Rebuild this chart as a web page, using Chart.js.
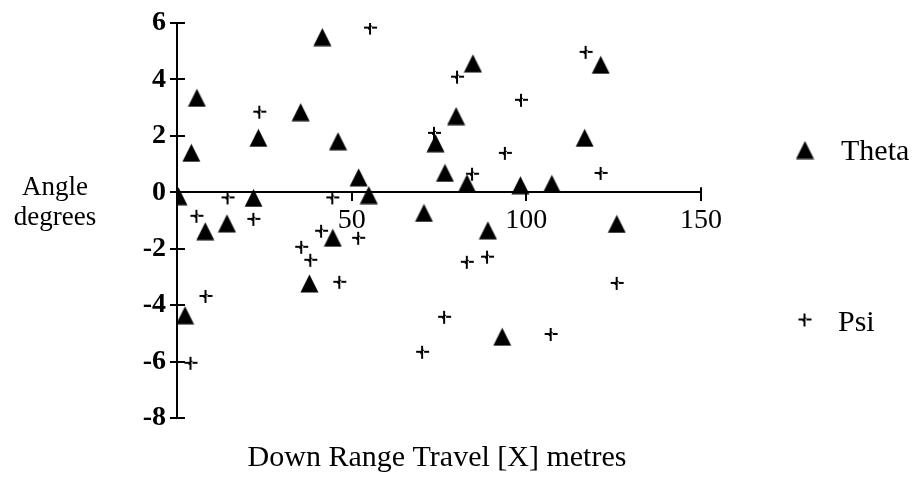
<!DOCTYPE html>
<html>
<head>
<meta charset="utf-8">
<script src="https://cdn.jsdelivr.net/npm/chart.js@4.4.1/dist/chart.umd.min.js"></script>
<style>
  html, body { margin: 0; padding: 0; background: #fff; }
  #wrap { width: 913px; height: 481px; position: relative; }
</style>
</head>
<body>
<div id="wrap"><canvas id="c" width="913" height="481"></canvas></div>
<script>
// ---- data ----
const thetaX = [0.4, 4.1, 5.7, 8.1, 14.3, 21.9, 23.3, 35.4, 37.9, 41.6, 44.6, 46.1, 52.0, 54.9, 2.3, 70.7, 74.0, 76.7, 79.9, 83.0, 84.7, 89.0, 93.1, 98.3, 107.3, 116.7, 121.3, 125.9];
const thetaY = [-0.14, 1.4, 3.35, -1.38, -1.1, -0.2, 1.93, 2.84, -3.23, 5.5, -1.61, 1.81, 0.53, -0.1, -4.36, -0.73, 1.74, 0.69, 2.7, 0.32, 4.57, -1.35, -5.12, 0.25, 0.3, 1.93, 4.52, -1.12];
const psiX = [55.4, 23.7, 14.6, 44.6, 5.7, 22.0, 41.4, 52.0, 35.7, 38.3, 46.6, 8.3, 4.0, 70.3, 76.6, 83.1, 88.9, 107.1, 126.0, 80.3, 73.7, 84.6, 94.0, 98.6, 117.1, 121.4];
const psiY = [5.82, 2.84, -0.2, -0.2, -0.85, -0.96, -1.38, -1.63, -1.95, -2.41, -3.19, -3.69, -6.06, -5.67, -4.43, -2.48, -2.3, -5.04, -3.23, 4.08, 2.09, 0.64, 1.38, 3.26, 4.96, 0.67];
const seriesNames = ['Theta', 'Psi'];
const xTicks = [0, 50, 100, 150];
const yTicks = [-8, -6, -4, -2, 0, 2, 4, 6];
const xTitle = 'Down Range Travel [X] metres';
const yTitle = ['Angle', 'degrees'];

// ---- marker images ----
function makeTriangle() {
  const cv = document.createElement('canvas');
  cv.width = 19; cv.height = 19;
  const g = cv.getContext('2d');
  g.fillStyle = '#000';
  g.beginPath();
  g.moveTo(9.5, 0.5);
  g.lineTo(18.5, 18.5);
  g.lineTo(0.5, 18.5);
  g.closePath();
  g.fill();
  return cv;
}
function makePsi() {
  const cv = document.createElement('canvas');
  cv.width = 15; cv.height = 15;
  const g = cv.getContext('2d');
  g.fillStyle = '#000';
  g.fillRect(6, 1, 2, 13);
  g.fillRect(1, 6, 5, 2);
  g.fillRect(9, 6, 5, 2);
  g.fillRect(8, 5, 1, 1);
  g.fillRect(5, 8, 1, 1);
  return cv;
}
const triImg = makeTriangle();
const psiImg = makePsi();

const toPts = (xs, ys) => xs.map((x, i) => ({ x: x, y: ys[i] }));
const FONT = 'Liberation Serif';

const decor = {
  id: 'decor',
  afterDraw(chart) {
    const c = chart.ctx;
    const xs = chart.scales.x, ys = chart.scales.y;
    const left = chart.chartArea.left;
    c.save();
    c.strokeStyle = '#000';
    c.lineWidth = 2;
    yTicks.forEach(v => {
      const py = Math.round(ys.getPixelForValue(v));
      c.beginPath(); c.moveTo(left, py); c.lineTo(left + 8, py); c.stroke();
    });
    const y0 = ys.getPixelForValue(0);
    const pEnd = xs.getPixelForValue(xTicks[xTicks.length - 1]);
    c.beginPath(); c.moveTo(pEnd, y0 - 5); c.lineTo(pEnd, y0); c.stroke();

    c.fillStyle = '#000';
    c.font = '30px "' + FONT + '"';
    c.textAlign = 'center';
    c.textBaseline = 'alphabetic';
    c.fillText(xTitle, 437, 466);
    c.font = '27px "' + FONT + '"';
    c.fillText(yTitle[0], 55, 195);
    c.fillText(yTitle[1], 55, 225);
    c.font = '30px "' + FONT + '"';
    c.textAlign = 'left';
    c.drawImage(triImg, 805 - 9.5, 150 - 9.5);
    c.fillText(chart.data.datasets[0].label, 841, 160);
    c.drawImage(psiImg, 805 - 7.5, 320 - 7.5);
    c.fillText(chart.data.datasets[1].label, 838, 331);
    c.restore();
  }
};

new Chart(document.getElementById('c'), {
  type: 'scatter',
  data: {
    datasets: [
      { label: seriesNames[0], data: toPts(thetaX, thetaY), pointStyle: triImg, pointRadius: 9, backgroundColor: '#000', borderColor: '#000' },
      { label: seriesNames[1], data: toPts(psiX, psiY), pointStyle: psiImg, pointRadius: 7, backgroundColor: '#000', borderColor: '#000' }
    ]
  },
  options: {
    responsive: false,
    animation: false,
    layout: { padding: { left: 0, right: 913 - 701, top: 23, bottom: 481 - 418 } },
    scales: {
      x: {
        type: 'linear', min: 0, max: 150,
        position: { y: 0 },
        afterBuildTicks: s => { s.ticks = xTicks.map(v => ({ value: v })); },
        afterFit: s => { s.height = 0; },
        ticks: {
          color: '#000', font: { family: FONT, size: 28 }, padding: 4,
          maxRotation: 0, autoSkip: false,
          callback: v => v === 0 ? '' : String(v)
        },
        grid: { drawOnChartArea: false, drawTicks: true, tickLength: 8, color: '#000', lineWidth: 2 },
        border: { color: '#000', width: 2 }
      },
      y: {
        type: 'linear', min: -8, max: 6,
        afterBuildTicks: s => { s.ticks = yTicks.map(v => ({ value: v })); },
        afterFit: s => { s.width = 177; },
        ticks: { color: '#000', font: { family: FONT, size: 28, weight: 'bold' }, padding: 4 },
        grid: { drawOnChartArea: false, drawTicks: true, tickLength: 7, color: '#000', lineWidth: 2 },
        border: { color: '#000', width: 2 }
      }
    },
    plugins: { legend: { display: false }, tooltip: { enabled: false } }
  },
  plugins: [decor]
});
</script>
</body>
</html>
